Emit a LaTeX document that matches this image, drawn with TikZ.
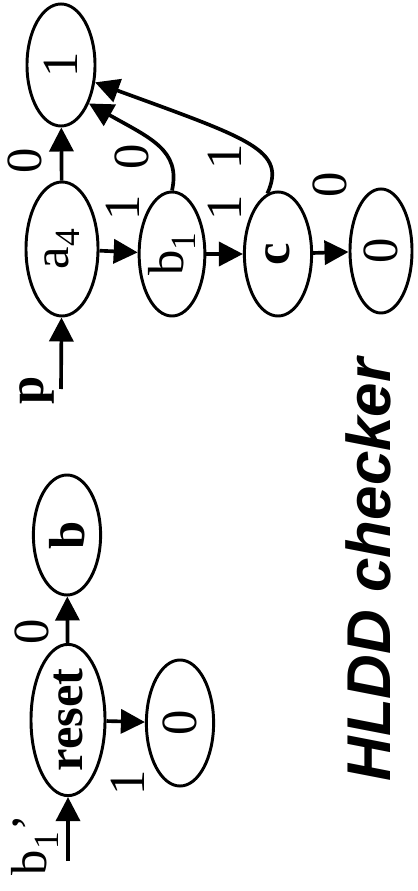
\documentclass[tikz,border=0pt]{standalone}
\usepackage{fontspec}
\setmainfont{Liberation Serif}
\newfontfamily\headfont{Liberation Sans}
\usetikzlibrary{shapes.geometric,arrows.meta}

\begin{document}
\begin{tikzpicture}[x=0.025cm, y=-0.025cm,
    dd/.style={draw, ellipse, line width=2.1pt, rotate=90, inner sep=0pt,
      minimum width=3.1cm, minimum height=1.68cm, font=\fontsize{36}{40}\selectfont},
    lbl/.style={rotate=90, inner sep=0pt, font=\fontsize{36}{40}\selectfont},
    arrow/.style={-{Triangle[length=6mm, width=6mm]}, line width=2.6pt}
]
    \useasboundingbox (0,0) rectangle (417,891);

    % Output p
    \node[dd, minimum width=3.05cm, minimum height=1.7cm] (one) at (61,65) {1};
    \node[dd, minimum width=3.35cm, minimum height=1.8cm] (a4) at (62,249) {a\textsubscript{4}};
    \node[dd, minimum height=1.6cm] (b1) at (172,254) {b\textsubscript{1}};
    \node[dd] (c) at (278,254) {\bfseries c};
    \node[dd, minimum height=1.55cm] (zeroP) at (381,251) {0};
    \coordinate (pin) at (61,389);
    \node[lbl, font=\fontsize{36}{40}\selectfont\bfseries] (p) at (37,390) {p};

    \draw[arrow] (pin) -- (a4);
    \draw[arrow] (a4) -- (one) node[lbl] (la4one) at (25,161) {0};
    \draw[arrow] (a4) -- (b1) node[lbl] (la4b1) at (123,208) {1};
    \draw[arrow] (b1) -- (c) node[lbl] (lb1c) at (225,208) {1};
    \draw[arrow] (c) -- (zeroP) node[lbl] (lczero) at (330,185) {0};
    \draw[arrow] (b1.east) .. controls (181,150) and (150,138) .. (one.-144);
    \node[lbl] (lb1one) at (132,157) {0};
    \draw[arrow] (c.10) .. controls (287,150) and (250,139) .. (one.-117);
    \node[lbl] (lcone) at (225,157) {1};

    % Output b
    \node[dd, minimum width=3.0cm] (b) at (67,535) {\bfseries b};
    \node[dd, minimum width=3.78cm, minimum height=1.85cm] (reset) at (68,720) {\bfseries reset};
    \node[dd, minimum width=3.15cm] (zeroB) at (180,723) {0};
    \coordinate (rin) at (68,861);
    \node[lbl] (b1p) at (35,845) {b\textsubscript{1}’};

    \draw[arrow] (rin) -- (reset);
    \draw[arrow] (reset) -- (b) node[lbl] (lresetb) at (32,632) {0};
    \draw[arrow] (reset) -- (zeroB) node[lbl] (lresetzero) at (128,783) {1};

    % Title
    \node[rotate=90, inner sep=0pt, font=\headfont\bfseries\itshape\fontsize{44}{48}\selectfont]
        (title) at (368,570) {HLDD checker};
\end{tikzpicture}
\end{document}
